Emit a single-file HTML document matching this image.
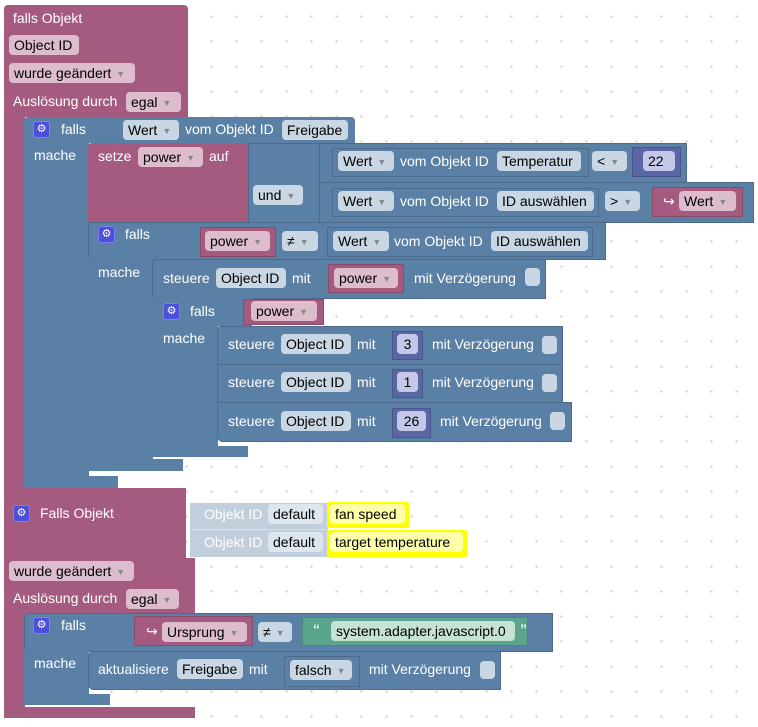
<!DOCTYPE html>
<html><head><meta charset="utf-8"><style>
body{margin:0;width:758px;height:727px;overflow:hidden;background:#fff;
background-image:radial-gradient(circle,#ccc 1px,transparent 1.3px);background-size:25px 25px;background-position:-1px 4px;
font-family:"Liberation Sans",Arial,sans-serif;font-size:14px;position:relative}
div{position:absolute;box-sizing:border-box}
.p{background:#a55b80}
.b{background:#5b80a5}
.pb{background:#a55b80;border:1px solid #8a4a6a}
.ib{border:1px solid #4c6b8b;background:#5b80a5}
.t{color:#fff;line-height:20px;white-space:nowrap}
.f{height:20px;line-height:20px;border-radius:4px;padding:0 5px;color:#000;white-space:nowrap}
.fp{background:#dcbccd}
.fb{background:#c9d6e4}
.fn{background:#c5c8e8}
.fg{background:#c6e2d2}
.fy{background:#ffffaa}
.a{color:#888;font-size:9px;margin-left:5px;vertical-align:1px}
.g{width:17px;height:17px;background:#4d50d8;border-radius:3px;border:1px solid #7c7ff0;color:#fff;font-size:11px;line-height:15px;text-align:center}
.c{width:15px;height:18px;background:#c9d6e4;border-radius:4px}
.nb{background:#5b67a5;border:1px solid #4a5590}
.gb{background:#5ba58c;border:1px solid #4a8a74}
</style></head><body>

<!-- Block 1 purple -->
<div class="p" style="left:4px;top:5px;width:184px;height:112px;border-radius:4px 4px 0 0"></div>
<div class="p" style="left:4px;top:115px;width:21px;height:385px"></div>
<div class="p" style="left:4px;top:488px;width:182px;height:12px"></div>
<div class="t" style="left:13px;top:8px">falls Objekt</div>
<div class="f fp" style="left:9px;top:35px;width:70px">Object ID</div>
<div class="f fp" style="left:9px;top:63px;width:126px">wurde geändert<span class="a">▼</span></div>
<div class="t" style="left:13px;top:91px">Auslösung durch</div>
<div class="f fp" style="left:126px;top:92px;width:55px">egal<span class="a">▼</span></div>

<!-- falls 1 -->
<div class="b" style="left:24px;top:117px;width:331px;height:26px;border-radius:4px 4px 0 0"></div>
<div class="b" style="left:24px;top:140px;width:65px;height:348px;border-radius:0 0 0 6px"></div>
<div class="b" style="left:24px;top:476px;width:94px;height:12px"></div>
<div class="g" style="left:33px;top:121px">⚙</div>
<div class="t" style="left:61px;top:119px">falls</div>
<div class="f fb" style="left:123px;top:120px;width:56px">Wert<span class="a">▼</span></div>
<div class="t" style="left:185px;top:119px">vom Objekt ID</div>
<div class="f fb" style="left:282px;top:120px;width:66px">Freigabe</div>
<div class="t" style="left:34px;top:145px">mache</div>

<!-- setze -->
<div class="p" style="left:88px;top:143px;width:161px;height:80px;border-radius:4px 0 0 0"></div>
<div class="t" style="left:98px;top:146px">setze</div>
<div class="f fp" style="left:138px;top:147px;width:65px">power<span class="a">▼</span></div>
<div class="t" style="left:209px;top:146px">auf</div>
<!-- und block -->
<div class="b" style="left:248px;top:143px;width:73px;height:80px;border:1px solid #4c6b8b;border-right:none"></div>
<div class="b" style="left:319px;top:143px;width:368px;height:40px;border:1px solid #4c6b8b"></div>
<div class="b" style="left:319px;top:182px;width:435px;height:41px;border:1px solid #4c6b8b"></div>
<div class="f fb" style="left:253px;top:185px;width:50px">und<span class="a">▼</span></div>
<div class="ib" style="left:332px;top:148px;width:257px;height:29px"></div>
<div class="f fb" style="left:338px;top:151px;width:56px">Wert<span class="a">▼</span></div>
<div class="t" style="left:400px;top:151px">vom Objekt ID</div>
<div class="f fb" style="left:497px;top:151px;width:84px">Temperatur</div>
<div class="f fb" style="left:592px;top:151px;width:35px">&lt;<span class="a">▼</span></div>
<div class="nb" style="left:632px;top:147px;width:49px;height:30px"></div>
<div class="f fn" style="left:643px;top:151px;width:32px">22</div>
<div class="ib" style="left:332px;top:188px;width:267px;height:29px"></div>
<div class="f fb" style="left:338px;top:191px;width:56px">Wert<span class="a">▼</span></div>
<div class="t" style="left:400px;top:191px">vom Objekt ID</div>
<div class="f fb" style="left:497px;top:191px;width:97px">ID auswählen</div>
<div class="f fb" style="left:605px;top:191px;width:35px">&gt;<span class="a">▼</span></div>
<div class="pb" style="left:652px;top:187px;width:91px;height:30px"></div>
<div class="t" style="left:663px;top:191px">↪</div>
<div class="f fp" style="left:679px;top:191px;width:57px">Wert<span class="a">▼</span></div>

<!-- falls 2 -->
<div class="b" style="left:88px;top:222px;width:518px;height:38px;border:1px solid #4c6b8b"></div>
<div class="b" style="left:88px;top:258px;width:65px;height:213px;border-radius:0 0 0 6px"></div>
<div class="b" style="left:88px;top:459px;width:95px;height:12px"></div>
<div class="g" style="left:98px;top:226px">⚙</div>
<div class="t" style="left:125px;top:224px">falls</div>
<div class="pb" style="left:200px;top:227px;width:76px;height:30px"></div>
<div class="f fp" style="left:205px;top:231px;width:65px">power<span class="a">▼</span></div>
<div class="f fb" style="left:282px;top:231px;width:36px">≠<span class="a">▼</span></div>
<div class="ib" style="left:327px;top:227px;width:266px;height:30px"></div>
<div class="f fb" style="left:333px;top:231px;width:56px">Wert<span class="a">▼</span></div>
<div class="t" style="left:394px;top:231px">vom Objekt ID</div>
<div class="f fb" style="left:491px;top:231px;width:97px">ID auswählen</div>
<div class="t" style="left:98px;top:262px">mache</div>

<!-- steuere power -->
<div class="b" style="left:152px;top:259px;width:394px;height:40px;border:1px solid #4c6b8b;border-radius:4px 0 0 0"></div>
<div class="t" style="left:163px;top:268px">steuere</div>
<div class="f fb" style="left:216px;top:268px;width:70px">Object ID</div>
<div class="t" style="left:292px;top:268px">mit</div>
<div class="pb" style="left:328px;top:264px;width:76px;height:29px"></div>
<div class="f fp" style="left:334px;top:268px;width:64px">power<span class="a">▼</span></div>
<div class="t" style="left:414px;top:268px">mit Verzögerung</div>
<div class="c" style="left:525px;top:268px"></div>

<!-- falls 3 -->
<div class="b" style="left:152px;top:298px;width:100px;height:28px"></div>
<div class="b" style="left:152px;top:320px;width:66px;height:137px;border-radius:0 0 0 6px"></div>
<div class="b" style="left:152px;top:446px;width:96px;height:11px"></div>
<div class="pb" style="left:243px;top:299px;width:81px;height:26px"></div>
<div class="f fp" style="left:251px;top:301px;width:66px">power<span class="a">▼</span></div>
<div class="g" style="left:163px;top:303px">⚙</div>
<div class="t" style="left:190px;top:301px">falls</div>
<div class="t" style="left:163px;top:328px">mache</div>

<div class="b" style="left:217px;top:326px;width:346px;height:39px;border:1px solid #4c6b8b;border-radius:4px 0 0 0"></div>
<div class="b" style="left:217px;top:364px;width:346px;height:39px;border:1px solid #4c6b8b"></div>
<div class="b" style="left:217px;top:402px;width:355px;height:40px;border:1px solid #4c6b8b;border-radius:0 0 0 6px"></div>

<div class="t" style="left:228px;top:334px">steuere</div>
<div class="f fb" style="left:281px;top:334px;width:70px">Object ID</div>
<div class="t" style="left:357px;top:334px">mit</div>
<div class="nb" style="left:392px;top:331px;width:31px;height:29px"></div>
<div class="f fn" style="left:397px;top:334px;width:21px;padding:0;text-align:center">3</div>
<div class="t" style="left:432px;top:334px">mit Verzögerung</div>
<div class="c" style="left:542px;top:336px"></div>

<div class="t" style="left:228px;top:372px">steuere</div>
<div class="f fb" style="left:281px;top:372px;width:70px">Object ID</div>
<div class="t" style="left:357px;top:372px">mit</div>
<div class="nb" style="left:392px;top:369px;width:31px;height:29px"></div>
<div class="f fn" style="left:397px;top:372px;width:21px;padding:0;text-align:center">1</div>
<div class="t" style="left:432px;top:372px">mit Verzögerung</div>
<div class="c" style="left:542px;top:374px"></div>

<div class="t" style="left:228px;top:411px">steuere</div>
<div class="f fb" style="left:281px;top:411px;width:70px">Object ID</div>
<div class="t" style="left:357px;top:411px">mit</div>
<div class="nb" style="left:392px;top:408px;width:39px;height:30px"></div>
<div class="f fn" style="left:397px;top:411px;width:29px;padding:0;text-align:center">26</div>
<div class="t" style="left:440px;top:411px">mit Verzögerung</div>
<div class="c" style="left:550px;top:412px"></div>

<!-- Block 2 purple -->
<div class="p" style="left:4px;top:500px;width:182px;height:60px"></div>
<div class="p" style="left:4px;top:558px;width:191px;height:60px"></div>
<div class="p" style="left:4px;top:615px;width:21px;height:103px"></div>
<div class="p" style="left:4px;top:707px;width:191px;height:11px"></div>
<div class="g" style="left:13px;top:505px">⚙</div>
<div class="t" style="left:40px;top:503px">Falls Objekt</div>
<div style="left:190px;top:503px;width:138px;height:27px;background:#c1cfdd;border-bottom:1px solid #d6e0ea"></div>
<div style="left:190px;top:530px;width:138px;height:27px;background:#c1cfdd"></div>
<div class="t" style="left:204px;top:504px;color:#fff">Objekt ID</div>
<div class="f" style="left:268px;top:504px;width:55px;background:#dde6ef">default</div>
<div class="t" style="left:204px;top:532px;color:#fff">Objekt ID</div>
<div class="f" style="left:268px;top:532px;width:55px;background:#dde6ef">default</div>
<div style="left:327px;top:502px;width:82px;height:26px;background:#ffff00;border-radius:2px"></div>
<div class="f fy" style="left:330px;top:504px;width:75px">fan speed</div>
<div style="left:327px;top:530px;width:140px;height:27px;background:#ffff00;border-radius:2px"></div>
<div class="f fy" style="left:330px;top:532px;width:133px">target temperature</div>
<div class="f fp" style="left:9px;top:561px;width:125px">wurde geändert<span class="a">▼</span></div>
<div class="t" style="left:13px;top:588px">Auslösung durch</div>
<div class="f fp" style="left:126px;top:589px;width:53px">egal<span class="a">▼</span></div>

<!-- falls 4 -->
<div class="b" style="left:24px;top:613px;width:529px;height:39px;border:1px solid #4c6b8b;border-radius:4px 0 0 0"></div>
<div class="b" style="left:24px;top:650px;width:65px;height:55px;border-radius:0 0 0 6px"></div>
<div class="b" style="left:24px;top:694px;width:86px;height:11px"></div>
<div class="g" style="left:33px;top:617px">⚙</div>
<div class="t" style="left:61px;top:615px">falls</div>
<div class="pb" style="left:134px;top:616px;width:119px;height:30px"></div>
<div class="t" style="left:146px;top:621px">↪</div>
<div class="f fp" style="left:162px;top:622px;width:85px">Ursprung<span class="a">▼</span></div>
<div class="f fb" style="left:258px;top:622px;width:34px">≠<span class="a">▼</span></div>
<div class="gb" style="left:302px;top:617px;width:226px;height:29px"></div>
<div class="t" style="left:313px;top:619px;font-weight:bold;color:#e8f5ee">“</div>
<div class="f fg" style="left:331px;top:621px;width:184px">system.adapter.javascript.0</div>
<div class="t" style="left:520px;top:619px;font-weight:bold;color:#e8f5ee">”</div>
<div class="t" style="left:34px;top:653px">mache</div>
<div class="b" style="left:88px;top:651px;width:413px;height:39px;border:1px solid #4c6b8b;border-radius:6px 0 0 6px"></div>
<div class="t" style="left:98px;top:659px">aktualisiere</div>
<div class="f fb" style="left:177px;top:659px;width:66px">Freigabe</div>
<div class="t" style="left:249px;top:659px">mit</div>
<div class="ib" style="left:284px;top:656px;width:76px;height:31px"></div>
<div class="f fb" style="left:290px;top:660px;width:62px">falsch<span class="a">▼</span></div>
<div class="t" style="left:369px;top:659px">mit Verzögerung</div>
<div class="c" style="left:480px;top:661px"></div>

</body></html>
